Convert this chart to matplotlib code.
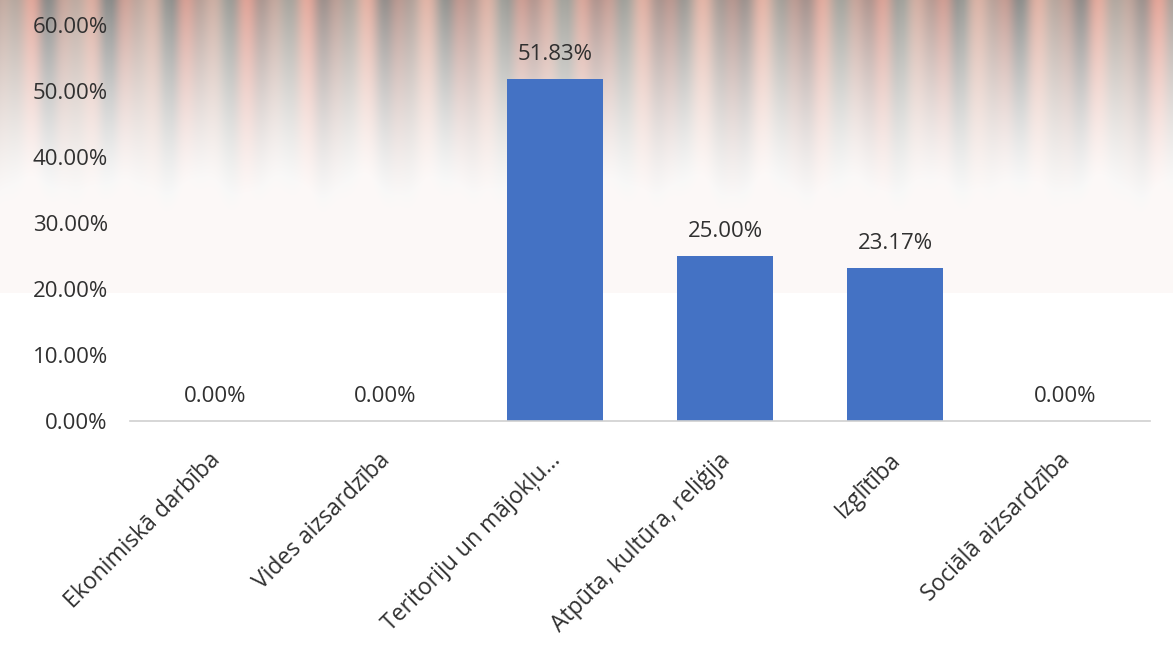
import numpy as np
import matplotlib
matplotlib.use('Agg')
import matplotlib.pyplot as plt
import matplotlib.transforms as mtransforms
from matplotlib.ticker import FuncFormatter

categories = ['Ekonimiskā darbība', 'Vides aizsardzība', 'Teritoriju un mājokļu...',
              'Atpūta, kultūra, reliģija', 'Izglītība', 'Sociālā aizsardzība']
shares = [0.0, 0.0, 51.83, 25.00, 23.17, 0.0]
value_labels = ['0.00%', '0.00%', '51.83%', '25.00%', '23.17%', '0.00%']
yticks = [0, 10, 20, 30, 40, 50, 60]

plt.rcParams['font.family'] = ['Open Sans', 'DejaVu Sans']

W, H = 1173, 651
fig = plt.figure(figsize=(W / 100, H / 100), dpi=100)
fig.patch.set_facecolor('white')

# decorative streaky background in the upper part of the chart
bh = 293
xs = np.arange(W)
ys = np.arange(bh)[:, None]
t = np.clip(0.45 + 0.5 * np.sin(xs / 6.3) * np.cos(xs / 21.0 + 1.3), 0, 1)
u = 0.5 + 0.5 * np.sin(xs / 11.0 + 0.7)
gray = np.array([140, 140, 138]) / 255
salmon = np.array([232, 165, 152]) / 255
beige = np.array([225, 222, 205]) / 255
col = (gray[None, :] * (1 - t[:, None]) + salmon[None, :] * t[:, None]) * (1 - 0.3 * u[:, None]) \
    + beige[None, :] * 0.3 * u[:, None]
fade_len = 225 + 10 * np.sin(xs / 13.0 + 2.0)
a = np.clip(1 - ys / fade_len[None, :], 0, 1) ** 1.5
img = np.ones((bh, W, 3)) * (1 - a[..., None]) + col[None, :, :] * a[..., None]
tint = np.array([0.99, 0.975, 0.97])
img = np.minimum(img, tint[None, None, :])
bg = fig.add_axes([0, 1 - bh / H, 1, bh / H], zorder=-1)
bg.imshow(img, aspect='auto', interpolation='bicubic')
bg.axis('off')

ax = fig.add_axes([130 / W, 1 - 421 / H, (1150 - 130) / W, (421 - 25) / H])
ax.set_facecolor('none')
x = np.arange(len(categories))
bars = ax.bar(x, shares, width=0.56, color='#4472C4', zorder=2)
for b, lab in zip(bars, value_labels):
    ax.annotate(lab, (b.get_x() + b.get_width() / 2, b.get_height()),
                xytext=(0, 10), textcoords='offset points', ha='center', va='bottom',
                fontsize=16, color='#303030')

ax.set_xlim(-0.5, len(categories) - 0.5)
ax.set_ylim(0, 60)
ax.set_yticks(yticks)
ax.yaxis.set_major_formatter(FuncFormatter(lambda v, p: f'{v:.2f}%'))
ax.set_xticks([])

# category labels, rotated 45 degrees, ending near each bar centre
lab_tr = ax.get_xaxis_transform() + mtransforms.ScaledTranslation(0.02, -0.36, fig.dpi_scale_trans)
for xi, name in zip(x, categories):
    ax.text(xi, 0, name, transform=lab_tr, rotation=45, ha='right', va='center',
            rotation_mode='anchor', fontsize=16.5, color='#303030')

ax.tick_params(axis='y', length=0, pad=16, labelsize=16, labelcolor='#303030')
for s in ['top', 'right', 'left']:
    ax.spines[s].set_visible(False)
ax.spines['bottom'].set_color('#d0d0d0')
ax.spines['bottom'].set_linewidth(1.2)

fig.savefig('out.png', dpi=100)
